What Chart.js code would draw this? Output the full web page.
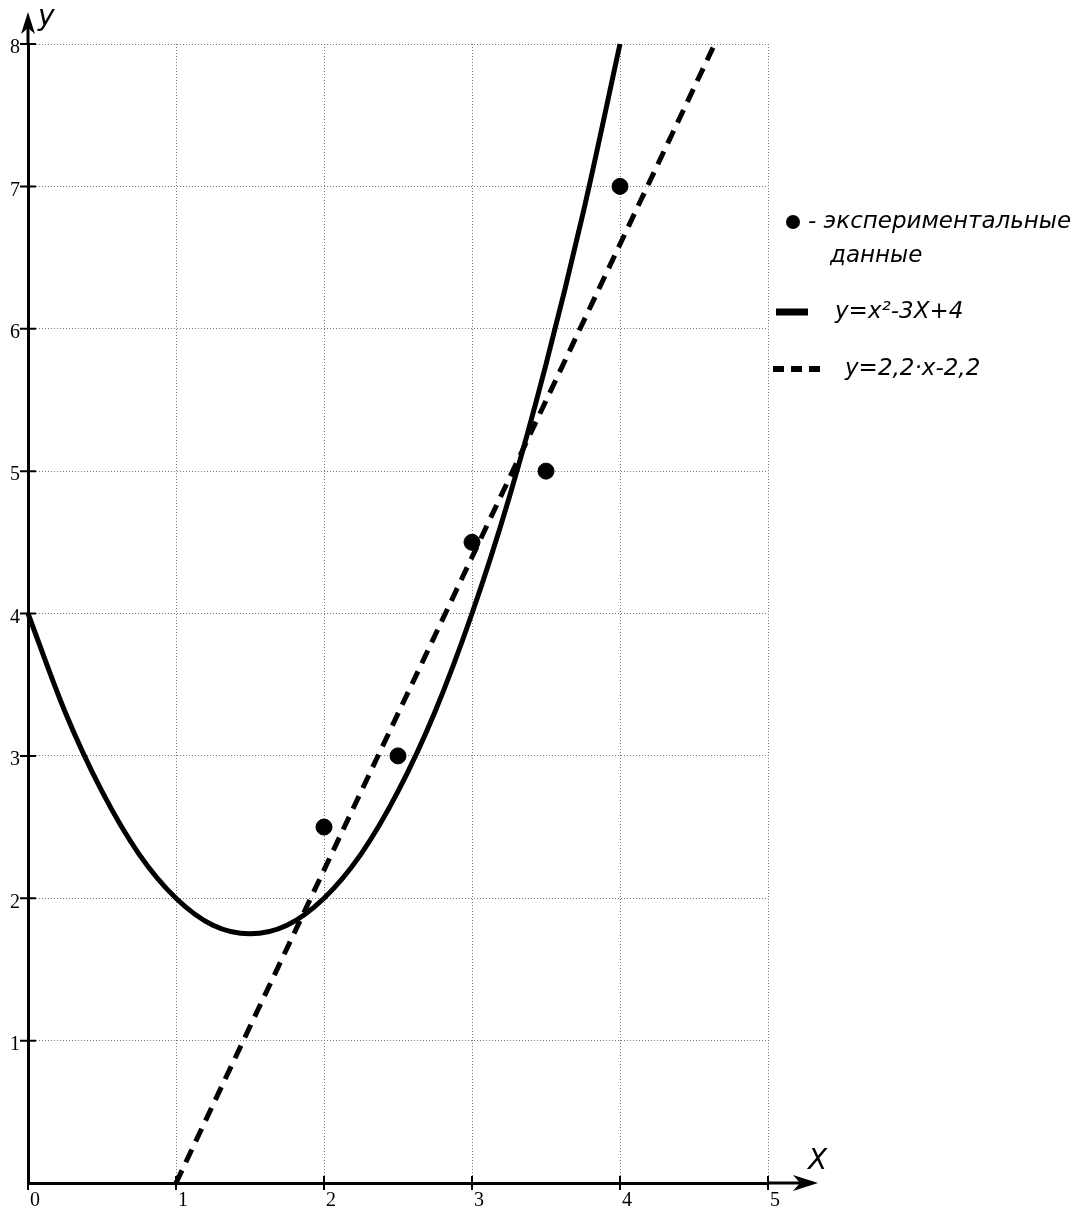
<!DOCTYPE html>
<html>
<head>
<meta charset="utf-8">
<script src="https://cdn.jsdelivr.net/npm/chart.js@4"></script>
<style>
  body { margin: 0; background: #fff; }
  #wrap { width: 1090px; height: 1216px; }
</style>
</head>
<body>
<div id="wrap"><canvas id="chart" width="1090" height="1216"></canvas></div>
<script>
// экспериментальные данные
const expX = [2, 2.5, 3, 3.5, 4];
const expY = [2.5, 3, 4.5, 5, 7];

// y = x^2 - 3x + 4 (точки)
const parX = [0, 0.25, 0.5, 0.75, 1, 1.25, 1.5, 1.75, 2, 2.25, 2.5, 2.75, 3, 3.25, 3.5, 3.75, 4];
const parY = [4, 3.31, 2.75, 2.31, 2, 1.81, 1.75, 1.81, 2, 2.31, 2.75, 3.31, 4, 4.81, 5.75, 6.81, 8];

// y = 2,2x - 2,2
const linX = [1, 4.64];
const linY = [0, 8];

const xTicks = [0, 1, 2, 3, 4, 5];
const yTicks = [1, 2, 3, 4, 5, 6, 7, 8];

const legendItems = [
  { kind: 'dot', lines: ['- экспериментальные', 'данные'] },
  { kind: 'solid', lines: ['y=x²-3X+4'] },
  { kind: 'dash', lines: ['y=2,2·x-2,2'] }
];

function toPoints(xs, ys) {
  return xs.map((x, i) => ({ x: x, y: ys[i] }));
}

Chart.defaults.font.family = '"Liberation Serif", serif';
Chart.defaults.font.size = 20;
Chart.defaults.color = '#000';

const handFont = 'italic 23px "DejaVu Sans", sans-serif';

// стрелки, засечки, подписи осей и легенда
const decorPlugin = {
  id: 'decor',
  afterDraw(chart) {
    const ctx = chart.ctx;
    const xs = chart.scales.x;
    const ys = chart.scales.y;
    const x0 = xs.getPixelForValue(0);
    const y0 = ys.getPixelForValue(0);
    const area = chart.chartArea;

    ctx.save();
    ctx.strokeStyle = '#000';
    ctx.fillStyle = '#000';
    ctx.lineWidth = 3;

    // продолжение осей
    ctx.beginPath();
    ctx.moveTo(area.right, y0);
    ctx.lineTo(812, y0);
    ctx.moveTo(x0, area.top);
    ctx.lineTo(x0, 18);
    ctx.stroke();

    // стрелка X
    ctx.beginPath();
    ctx.moveTo(818, y0);
    ctx.lineTo(793, y0 - 8);
    ctx.lineTo(800, y0);
    ctx.lineTo(793, y0 + 8);
    ctx.closePath();
    ctx.fill();

    // стрелка Y
    ctx.beginPath();
    ctx.moveTo(x0, 12);
    ctx.lineTo(x0 - 7, 34);
    ctx.lineTo(x0, 28);
    ctx.lineTo(x0 + 7, 34);
    ctx.closePath();
    ctx.fill();

    // засечки
    ctx.lineWidth = 2;
    ctx.beginPath();
    xTicks.forEach(v => {
      const px = xs.getPixelForValue(v);
      ctx.moveTo(px, y0 - 7);
      ctx.lineTo(px, y0 + 7);
    });
    yTicks.forEach(v => {
      const py = ys.getPixelForValue(v);
      ctx.moveTo(x0 - 8, py);
      ctx.lineTo(x0 + 8, py);
    });
    ctx.stroke();

    // подписи осей
    ctx.font = 'italic 28px "DejaVu Sans", sans-serif';
    ctx.textBaseline = 'middle';
    ctx.textAlign = 'left';
    ctx.fillText('y', 38, 18);
    ctx.fillText('X', 808, 1162);

    // легенда
    ctx.font = handFont;
    const rowY = [222, 312, 369];
    legendItems.forEach((item, i) => {
      const y = rowY[i];
      if (item.kind === 'dot') {
        ctx.beginPath();
        ctx.arc(793, y, 7, 0, Math.PI * 2);
        ctx.fill();
        ctx.fillText(item.lines[0], 808, y);
        ctx.fillText(item.lines[1], 830, y + 34);
      } else if (item.kind === 'solid') {
        ctx.lineWidth = 7;
        ctx.setLineDash([]);
        ctx.beginPath();
        ctx.moveTo(776, y);
        ctx.lineTo(808, y);
        ctx.stroke();
        ctx.fillText(item.lines[0], 835, y);
      } else {
        ctx.lineWidth = 6;
        ctx.setLineDash([11, 7]);
        ctx.beginPath();
        ctx.moveTo(773, y);
        ctx.lineTo(820, y);
        ctx.stroke();
        ctx.setLineDash([]);
        ctx.fillText(item.lines[0], 845, y);
      }
    });
    ctx.restore();
  }
};

new Chart(document.getElementById('chart'), {
  type: 'scatter',
  data: {
    datasets: [
      {
        label: 'экспериментальные данные',
        data: toPoints(expX, expY),
        backgroundColor: '#000',
        borderColor: '#000',
        pointRadius: 8,
        order: 0
      },
      {
        label: 'y=x²-3X+4',
        type: 'line',
        data: toPoints(parX, parY),
        borderColor: '#000',
        borderWidth: 5,
        pointRadius: 0,
        cubicInterpolationMode: 'monotone',
        fill: false,
        clip: 4,
        order: 1
      },
      {
        label: 'y=2,2·x-2,2',
        type: 'line',
        data: toPoints(linX, linY),
        borderColor: '#000',
        borderWidth: 5,
        borderDash: [14, 9],
        pointRadius: 0,
        fill: false,
        clip: 4,
        order: 2
      }
    ]
  },
  options: {
    responsive: false,
    animation: false,
    layout: { padding: { left: 0, right: 322, top: 44, bottom: 0 } },
    plugins: {
      legend: { display: false },
      tooltip: { enabled: false }
    },
    scales: {
      x: {
        type: 'linear',
        min: 0,
        max: 5,
        afterFit: (s) => { s.height = 33; },
        afterBuildTicks: (s) => { s.ticks = xTicks.map(v => ({ value: v })); },
        ticks: {
          color: '#000',
          padding: 6,
          labelOffset: 7,
          font: { family: '"Liberation Serif", serif', size: 20 }
        },
        grid: { color: '#777', lineWidth: 1, drawTicks: false },
        border: { display: true, color: '#000', width: 3, dash: [1, 2] }
      },
      y: {
        type: 'linear',
        min: 0,
        max: 8,
        afterFit: (s) => { s.width = 28; },
        afterBuildTicks: (s) => { s.ticks = [0].concat(yTicks).map(v => ({ value: v })); },
        ticks: {
          color: '#000',
          padding: 8,
          labelOffset: 4,
          callback: (v) => (v === 0 ? '' : String(v)),
          font: { family: '"Liberation Serif", serif', size: 20 }
        },
        grid: { color: '#777', lineWidth: 1, drawTicks: false },
        border: { display: true, color: '#000', width: 3, dash: [1, 2] }
      }
    }
  },
  plugins: [decorPlugin]
});
</script>
</body>
</html>
